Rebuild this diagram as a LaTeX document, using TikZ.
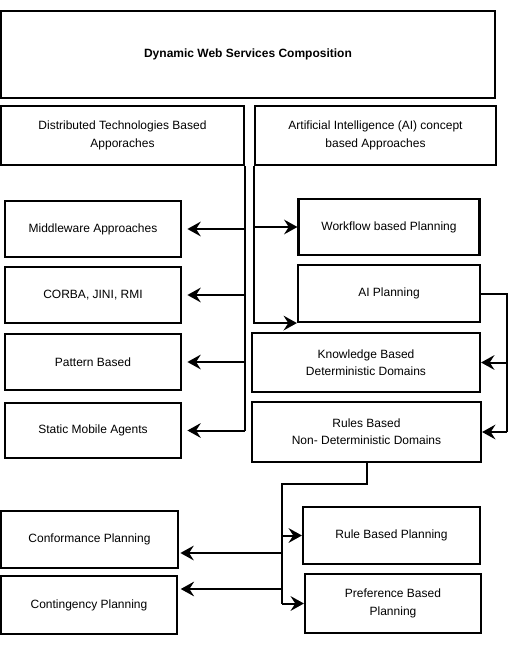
\documentclass[tikz,border=0pt]{standalone}
\usepackage{fontspec}
\setmainfont{Liberation Sans}
\usetikzlibrary{arrows.meta,calc}

\begin{document}
\begin{tikzpicture}[x=0.75pt,y=-0.75pt,
    box/.style={draw, line width=1.6pt, align=center, inner sep=0pt, font=\fontsize{9}{13}\selectfont},
    link/.style={line width=1.5pt},
    arr/.style={link, -{Stealth[length=10pt,width=11pt,inset=3.5pt]}}]
    \useasboundingbox (0,0) rectangle (508,645);
    \node[box, minimum width=370.5pt, minimum height=65.25pt, font=\bfseries\fontsize{9}{13}\selectfont] (dwsc) at (248,54.5) {Dynamic Web Services Composition};
    \node[box, minimum width=182pt, minimum height=44.25pt] (dist) at (122.5,135.5) {Distributed Technologies Based\\Apporaches};
    \node[box, minimum width=180.75pt, minimum height=44.25pt] (ai) at (375.5,135.5) {Artificial Intelligence (AI) concept\\based Approaches};

    \draw[link] (dist.south east) -- (dist.south east |- 0,431);
    \foreach \n/\y/\h/\t in {mid/229/42/Middleware Approaches, corba/295/42/{CORBA, JINI, RMI}, patt/362/42/Pattern Based, stat/430.5/41.25/Static Mobile Agents} {
        \node[box, minimum width=132pt, minimum height=\h pt] (\n) at (93,\y) {\t};
        \draw[arr, shorten >=4pt] (dist.south east |- \n) -- (\n.east);
    }

    \node[box, minimum width=135.75pt, minimum height=42pt] (wf) at (389,227) {Workflow based Planning};
    \node[box, minimum width=136.5pt, minimum height=42.75pt] (aipl) at (389,293.5) {AI Planning};
    \node[box, minimum width=171pt, minimum height=44.25pt] (know) at (366,362.5) {Knowledge Based\\Deterministic Domains};
    \node[box, minimum width=171.75pt, minimum height=45pt] (rules) at (366.5,432) {Rules Based\\Non- Deterministic Domains};
    \draw[arr] (ai.south west |- wf) -- (wf.west);
    \draw[arr] (ai.south west) |- (aipl.south west);

    \coordinate (rt) at ($(aipl.east)+(26,0)$);
    \draw[link] (aipl.east) -- (rt) -- (rt |- rules);
    \draw[arr] (rt |- know) -- (know.east);
    \draw[arr] (rt |- rules) -- (rules.east);

    \node[box, minimum width=132.75pt, minimum height=42.75pt] (conf) at (89.5,539.5) {Conformance Planning};
    \node[box, minimum width=132pt, minimum height=43.5pt] (cont) at (89,605) {Contingency Planning};
    \node[box, minimum width=132.75pt, minimum height=42.75pt] (rbp) at (391.5,535.5) {Rule Based Planning};
    \node[box, minimum width=132pt, minimum height=44.25pt] (pref) at (393,603.5) {Preference Based\\Planning};

    \coordinate (br) at (282,484);
    \coordinate (cfin) at ($(conf.east)+(0,13.5)$);
    \coordinate (ctin) at ($(cont.east)+(0,-16)$);
    \draw[link] (rules.south) |- (br) -- (br |- pref);
    \draw[arr] (br |- rbp) -- (rbp.west);
    \draw[arr] (br |- pref) -- (pref.west);
    \draw[arr, shorten >=1pt] (br |- cfin) -- (cfin);
    \draw[arr, shorten >=2pt] (br |- ctin) -- (ctin);
\end{tikzpicture}
\end{document}
